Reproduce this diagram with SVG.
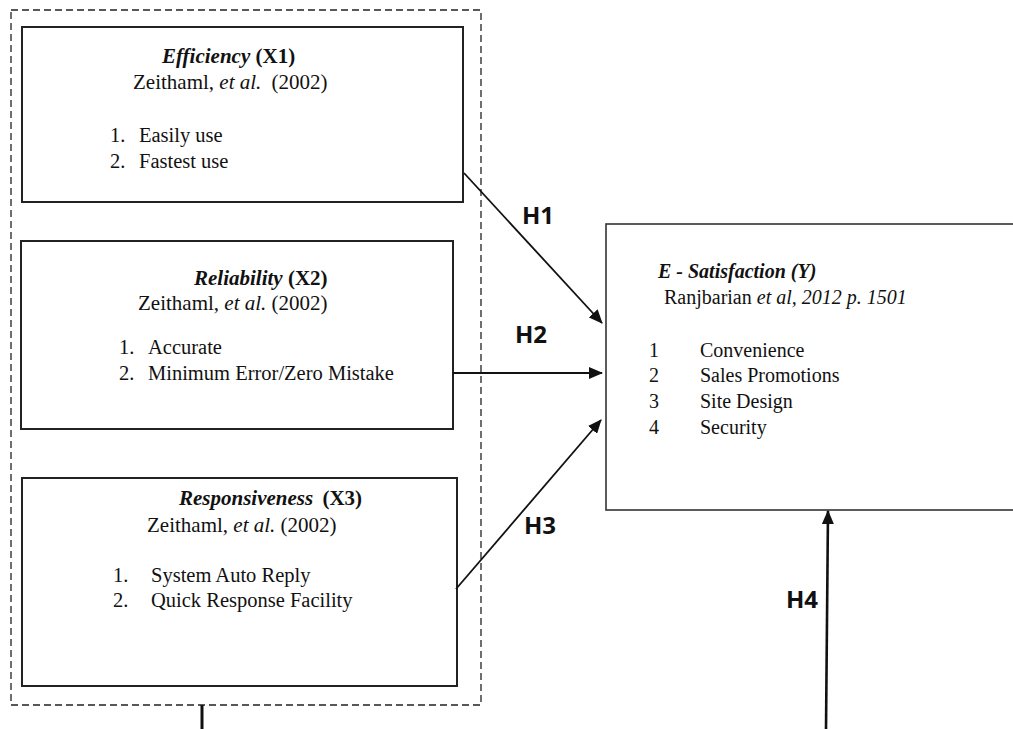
<svg xmlns="http://www.w3.org/2000/svg" width="1013" height="729" viewBox="0 0 1013 729">
<style>
.box{fill:#fff;stroke:#222;stroke-width:2}
.dash{fill:none;stroke:#222;stroke-width:1.3;stroke-dasharray:7 4}
.t{font-family:"Liberation Serif","Times New Roman",serif;font-size:20px;fill:#111}
.l{font-size:20.5px}
.hd{font-size:21px}
.bi{font-weight:bold;font-style:italic}
.b{font-weight:bold}
.i{font-style:italic}
.h{font-family:"Open Sans","Noto Sans","Liberation Sans",sans-serif;font-weight:bold;font-size:24px;fill:#111}
.c{stroke:#111;stroke-width:1.8;fill:none}
</style>
<defs>
<marker id="ah" markerUnits="userSpaceOnUse" markerWidth="14" markerHeight="12" refX="13" refY="6" orient="auto">
<path d="M0,0 L14,6 L0,12 Z" fill="#111"/>
</marker>
</defs>
<rect id="group-border" class="dash" x="11" y="10" width="470" height="695"/>
<g id="efficiency">
<rect class="box" x="22" y="27" width="441" height="175"/>
<text class="t hd" x="162" y="63"><tspan class="bi">Efficiency</tspan><tspan class="b"> (X1)</tspan></text>
<text class="t hd" x="133" y="89">Zeithaml, <tspan class="i">et al.</tspan> <tspan dx="5">(2002)</tspan></text>
<text class="t l" x="110" y="142">1.</text><text class="t l" x="139" y="142">Easily use</text>
<text class="t l" x="110" y="168">2.</text><text class="t l" x="139" y="168">Fastest use</text>
</g>
<g id="reliability">
<rect class="box" x="21" y="241" width="432" height="188"/>
<text class="t hd" x="194" y="285"><tspan class="bi">Reliability</tspan><tspan class="b"> (X2)</tspan></text>
<text class="t hd" x="138" y="310">Zeithaml, <tspan class="i">et al.</tspan> (2002)</text>
<text class="t l" x="119" y="354">1.</text><text class="t l" x="148" y="354">Accurate</text>
<text class="t l" x="119" y="380">2.</text><text class="t l" x="148" y="380">Minimum Error/Zero Mistake</text>
</g>
<g id="responsiveness">
<rect class="box" x="22" y="478" width="435" height="208"/>
<text class="t hd" x="179" y="505"><tspan class="bi">Responsiveness</tspan><tspan class="b" dx="4"> (X3)</tspan></text>
<text class="t hd" x="147" y="532">Zeithaml, <tspan class="i">et al.</tspan> (2002)</text>
<text class="t l" x="113" y="582">1.</text><text class="t l" x="151" y="582">System Auto Reply</text>
<text class="t l" x="113" y="607">2.</text><text class="t l" x="151" y="607">Quick Response Facility</text>
</g>
<g id="e-satisfaction">
<rect class="box" x="606" y="224" width="420" height="286" style="stroke-width:1.6;stroke:#333"/>
<text class="t bi" x="658" y="278">E - Satisfaction (Y)</text>
<text class="t" x="664" y="304">Ranjbarian <tspan class="i">et al, 2012 p. 1501</tspan></text>
<text class="t" x="649" y="357">1</text><text class="t" x="700" y="357">Convenience</text>
<text class="t" x="649" y="382">2</text><text class="t" x="700" y="382">Sales Promotions</text>
<text class="t" x="649" y="408">3</text><text class="t" x="700" y="408">Site Design</text>
<text class="t" x="649" y="434">4</text><text class="t" x="700" y="434">Security</text>
</g>
<g id="connectors">
<line class="c" x1="464" y1="173" x2="602" y2="323" marker-end="url(#ah)"/>
<line class="c" x1="453" y1="373" x2="602" y2="373" marker-end="url(#ah)"/>
<line class="c" x1="456" y1="589" x2="601" y2="420" marker-end="url(#ah)"/>
<line class="c" x1="826" y1="729" x2="828" y2="511" style="stroke-width:2.6" marker-end="url(#ah)"/>
<line class="c" x1="202" y1="705" x2="202" y2="729" style="stroke-width:3"/>
<text class="h" x="522" y="224">H1</text>
<text class="h" x="515" y="343">H2</text>
<text class="h" x="524" y="534">H3</text>
<text class="h" x="786" y="608">H4</text>
</g>
</svg>
